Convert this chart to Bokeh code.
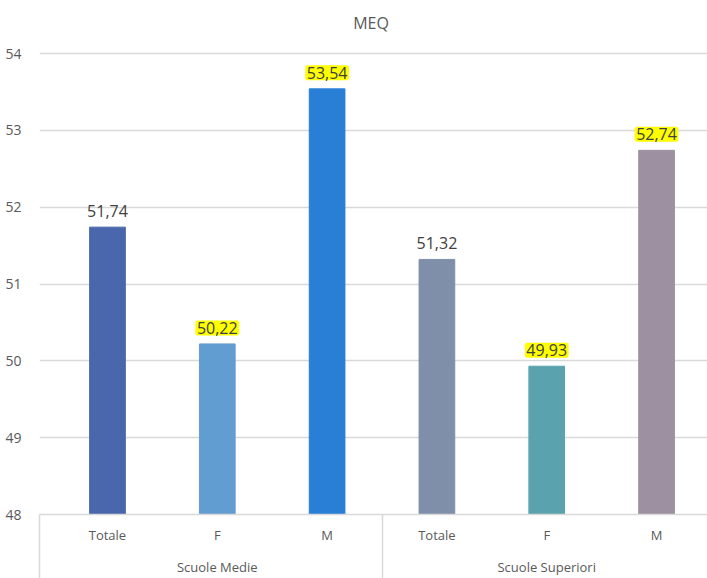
from bokeh.plotting import figure
from bokeh.models import ColumnDataSource, Range1d, FixedTicker, LinearAxis, LabelSet
from bokeh.core.properties import value
from bokeh.embed import file_html
from bokeh.resources import INLINE

title = "MEQ"
groups = ["Scuole Medie", "Scuole Superiori"]
subcats = ["Totale", "F", "M", "Totale", "F", "M"]
values = [51.74, 50.22, 53.54, 51.32, 49.93, 52.74]
colors = ["#4a66ac", "#629dd1", "#297fd5", "#7f8fa9", "#5aa2ae", "#9d90a0"]
highlight = [False, True, True, False, True, True]
y_ticks = [48, 49, 50, 51, 52, 53, 54]

FONT = "Open Sans"
TXT = "#595959"
GRID = "#d9d9d9"

xs = list(range(len(values)))
labels = [f"{v:.2f}".replace(".", ",") for v in values]

# the top of the y range leaves room above 54 for the chart title
p = figure(width=707, height=578, output_backend="svg", toolbar_location=None,
           x_range=Range1d(-0.619, 5.464), y_range=Range1d(48, 54.69),
           min_border_left=39, min_border_right=0, min_border_top=0, min_border_bottom=64,
           x_axis_location=None)
p.outline_line_color = None
p.background_fill_color = "white"

src = ColumnDataSource(dict(x=xs, top=values, color=colors, label=labels))
p.vbar(x="x", top="top", bottom=48, width=0.325, color="color", source=src)

# title, drawn as text in the space above the top gridline
p.text(x=[2.4], y=[54.40], text=[title], text_align="center", text_baseline="middle",
       text_font=value(FONT), text_font_size="16px", text_color=TXT)

# y axis
p.yaxis.ticker = FixedTicker(ticks=y_ticks)
p.yaxis.axis_line_color = None
p.yaxis.major_tick_line_color = None
p.yaxis.minor_tick_line_color = None
p.yaxis.major_label_text_font = FONT
p.yaxis.major_label_text_font_size = "14px"
p.yaxis.major_label_text_color = TXT
p.yaxis.major_label_standoff = 12
p.ygrid.ticker = FixedTicker(ticks=y_ticks)
p.ygrid.grid_line_color = GRID
p.ygrid.grid_line_width = 1.5
p.xgrid.grid_line_color = None

# inner category axis (minor ticks draw the group separators)
ax1 = LinearAxis(ticker=FixedTicker(ticks=xs, minor_ticks=[-0.617, 2.5]))
ax1.major_label_overrides = {float(i): s for i, s in zip(xs, subcats)}
ax1.axis_line_color = GRID
ax1.axis_line_width = 1.5
ax1.major_tick_line_color = None
ax1.minor_tick_line_color = GRID
ax1.minor_tick_line_width = 1.5
ax1.minor_tick_in = 0
ax1.minor_tick_out = 64
ax1.major_tick_out = 0
ax1.major_tick_in = 0
ax1.major_label_standoff = -53
ax1.major_label_text_font = FONT
ax1.major_label_text_font_size = "13px"
ax1.major_label_text_color = TXT
p.add_layout(ax1, "below")

# group axis
ax2 = LinearAxis(ticker=FixedTicker(ticks=[1, 4]))
ax2.major_label_overrides = {1.0: groups[0], 4.0: groups[1]}
ax2.axis_line_color = None
ax2.major_tick_line_color = None
ax2.minor_tick_line_color = None
ax2.major_tick_out = 0
ax2.major_tick_in = 0
ax2.major_label_standoff = 11
ax2.major_label_text_font = FONT
ax2.major_label_text_font_size = "13px"
ax2.major_label_text_color = TXT
p.add_layout(ax2, "below")

# data labels
plain = ColumnDataSource(dict(x=[x for x, h in zip(xs, highlight) if not h],
                              y=[v for v, h in zip(values, highlight) if not h],
                              t=[l for l, h in zip(labels, highlight) if not h]))
hl = ColumnDataSource(dict(x=[x for x, h in zip(xs, highlight) if h],
                           y=[v for v, h in zip(values, highlight) if h],
                           t=[l for l, h in zip(labels, highlight) if h]))
for s, bg in ((plain, None), (hl, "#ffff00")):
    ls = LabelSet(x="x", y="y", text="t", source=s, text_align="center",
                  text_baseline="bottom", y_offset=10, text_font=value(FONT),
                  text_font_size=value("16px"), text_color="#404040")
    if bg:
        ls.background_fill_color = bg
        ls.border_line_color = bg
        ls.border_line_width = 3
    p.add_layout(ls)

open("out.html", "w").write(file_html(p, INLINE))
